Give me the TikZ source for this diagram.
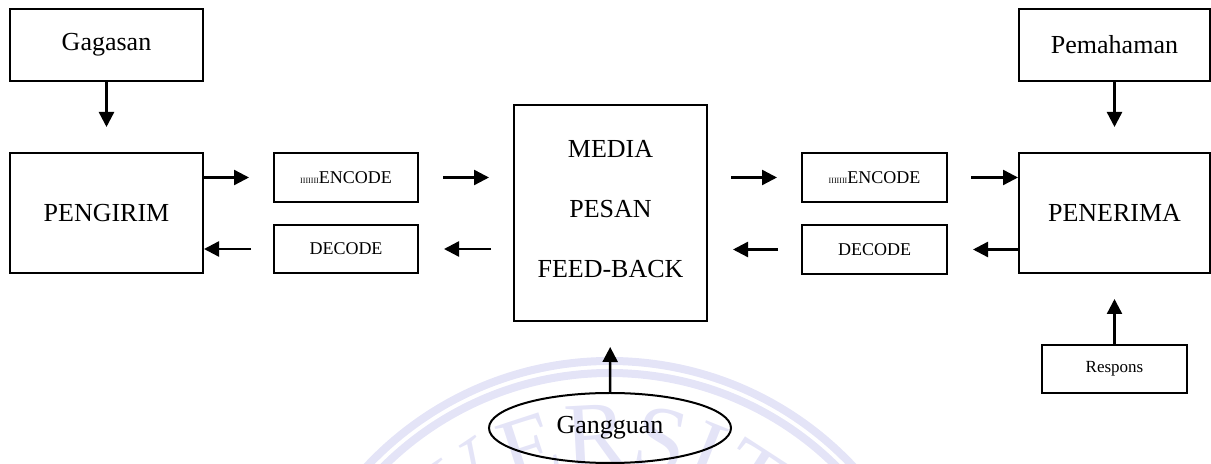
\documentclass[tikz,border=0pt]{standalone}
\usepackage{fontspec}
\setmainfont{Liberation Serif}
\usetikzlibrary{arrows.meta,decorations.text,shapes.geometric}
\definecolor{wm}{RGB}{228,228,247}
\begin{document}
\begin{tikzpicture}[x=0.5pt,y=0.5pt,
  box/.style={draw, line width=1pt, inner sep=0pt, align=center},
  big/.style={font=\fontsize{13}{15}\selectfont},
  small/.style={font=\fontsize{9}{11}\selectfont},
  arr/.style={line width=1.2pt, -{Triangle[length=7.5pt,width=7.5pt]}},
]
\useasboundingbox (0,0) rectangle (1211,-464);

% faint seal in the background
\begin{scope}
  \clip (0,0) rectangle (1211,-464);
  \draw[wm, line width=4pt] (610,-694) ++(175:333) arc[start angle=175,end angle=5,radius=333];
  \draw[wm, line width=4pt] (610,-694) ++(175:321) arc[start angle=175,end angle=5,radius=321];
  \path[decorate, decoration={text along path, text color=wm,
        text={|\fontsize{47}{47}\selectfont|UNIVERSITAS}, text align=center}]
        (610,-694) ++(192:228) arc[start angle=192,end angle=2,radius=228];
\end{scope}

% sender side
\node[box, big, minimum width=96.5pt, minimum height=36pt] (gagasan) at (106.5,-45) {Gagasan};
\node[box, big, minimum width=96.5pt, minimum height=60pt] (pengirim) at (106.5,-213) {PENGIRIM};
\node[box, small, minimum width=72pt, minimum height=24.5pt] (enc1) at (346,-177.5) {{\fontsize{4}{4}\selectfont IIIIIII}ENCODE};
\node[box, small, minimum width=72pt, minimum height=24pt] (dec1) at (346,-249) {DECODE};

% channel: framed box with three stacked labels
\node[box, minimum width=96.5pt, minimum height=108pt] (media) at (610.5,-213) {};
\node[font=\fontsize{13}{30}\selectfont, align=center, inner sep=0pt] (mediatext) at (610.5,-209) {MEDIA\\PESAN\\FEED-BACK};
\node[draw, ellipse, line width=1pt, inner sep=0pt, big, minimum width=121pt, minimum height=35pt] (gangguan) at (610,-428) {Gangguan};

% receiver side
\node[box, small, minimum width=72.5pt, minimum height=24.5pt] (enc2) at (874.5,-177.5) {{\fontsize{4}{4}\selectfont IIIIIII}ENCODE};
\node[box, small, minimum width=72.5pt, minimum height=24.5pt] (dec2) at (874.5,-249.5) {DECODE};
\node[box, big, minimum width=95.5pt, minimum height=36pt] (pemahaman) at (1114.5,-45) {Pemahaman};
\node[box, big, minimum width=95.5pt, minimum height=60pt] (penerima) at (1114.5,-213) {PENERIMA};
\node[box, font=\fontsize{8.5}{10}\selectfont, minimum width=72.5pt, minimum height=24pt] (respons) at (1114.5,-369) {Respons};

% connectors
\draw[arr, shorten >=12.5pt] (gagasan) -- (pengirim);
\draw[arr, shorten >=12pt] (pengirim.east |- enc1) -- (enc1.west);
\draw[arr, shorten <=12pt, shorten >=12pt] (enc1.east) -- (enc1 -| media.west);
\draw[arr, shorten <=11pt, shorten >=12.5pt] (dec1 -| media.west) -- (dec1.east);
\draw[arr, shorten <=11pt] (dec1.west) -- (dec1 -| pengirim.east);
\draw[arr, shorten <=11.5pt, shorten >=12pt] (enc2 -| media.east) -- (enc2.west);
\draw[arr, shorten <=11.5pt] (enc2.east) -- (enc2 -| penerima.west);
\draw[arr, shorten >=12.5pt] (dec2 -| penerima.west) -- (dec2.east);
\draw[arr, shorten <=11.5pt, shorten >=12.5pt] (dec2.west) -- (dec2 -| media.east);
\draw[arr, shorten >=12.5pt] (pemahaman) -- (penerima);
\draw[arr, shorten >=12.5pt] (gangguan) -- (media);
\draw[arr, shorten >=12.5pt] (respons) -- (penerima);
\end{tikzpicture}
\end{document}
